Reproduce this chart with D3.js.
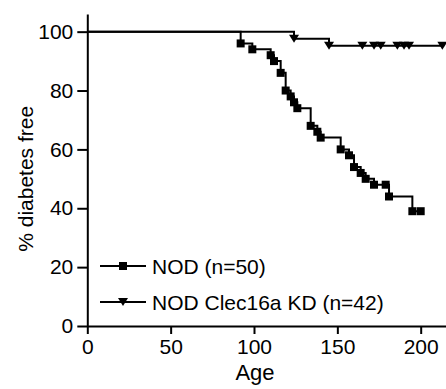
<!DOCTYPE html>
<html>
<head>
<meta charset="utf-8">
<script src="https://cdn.jsdelivr.net/npm/d3@7"></script>
<style>
  body { margin: 0; background: #fff; }
  svg { display: block; font-family: "Liberation Sans", Arial, sans-serif; }
</style>
</head>
<body>
<div id="chart"></div>
<script>
// Data (age in days, % diabetes free)
const nodTime = [0, 92, 99, 110, 112, 116, 119, 122, 124, 126, 134, 138, 140, 152, 157, 160, 164, 167, 172, 179, 181, 195, 200];
const nodSurv = [100, 96, 94, 92, 90, 86, 80, 78, 76, 74, 68, 66, 64, 60, 58, 54, 52, 50, 48, 48, 44, 39, 39];
const kdTime = [0, 124, 145, 165, 172, 176, 186, 190, 193, 213];
const kdSurv = [100, 97.6, 95.2, 95.2, 95.2, 95.2, 95.2, 95.2, 95.2, 95.2];
const xTicks = [0, 50, 100, 150, 200];
const yTicks = [0, 20, 40, 60, 80, 100];
const seriesNames = ["NOD (n=50)", "NOD Clec16a KD (n=42)"];

const W = 446, H = 389;
const FONT = 21;

const svg = d3.select("#chart").append("svg")
    .attr("width", W)
    .attr("height", H);

const x = d3.scaleLinear().domain([0, 215]).range([87.3, 445.7]);
const y = d3.scaleLinear().domain([0, 106]).range([326, 14]);

// Axes
const yAxis = svg.append("g")
    .attr("transform", `translate(${x(0)},0)`)
    .call(d3.axisLeft(y).tickValues(yTicks).tickSize(10).tickPadding(4).tickSizeOuter(0));
const xAxis = svg.append("g")
    .attr("transform", `translate(0,${y(0)})`)
    .call(d3.axisBottom(x).tickValues(xTicks).tickSize(8).tickPadding(5).tickSizeOuter(0));

[xAxis, yAxis].forEach(g => {
    g.selectAll(".domain").attr("stroke", "#000").attr("stroke-width", 2);
    g.selectAll(".tick line").attr("stroke", "#000").attr("stroke-width", 2);
    g.selectAll(".tick text")
        .attr("fill", "#000")
        .style("font-size", FONT + "px")
        .style("font-family", "'Liberation Sans', Arial, sans-serif");
});

// Axis titles
svg.append("text")
    .attr("x", (x(0) + x(200)) / 2 + 1)
    .attr("y", 380)
    .attr("text-anchor", "middle")
    .style("font-size", "22px")
    .text("Age");

svg.append("text")
    .attr("transform", `translate(33,${(y(0) + y(100)) / 2}) rotate(-90)`)
    .attr("text-anchor", "middle")
    .style("font-size", FONT + "px")
    .text("% diabetes free");

// Step curves
const line = d3.line()
    .x(d => x(d[0]))
    .y(d => y(d[1]))
    .curve(d3.curveStepAfter);

const nodPts = nodTime.map((t, i) => [t, nodSurv[i]]);
const kdPts = kdTime.map((t, i) => [t, kdSurv[i]]);

svg.append("path")
    .datum(nodPts)
    .attr("fill", "none")
    .attr("stroke", "#000")
    .attr("stroke-width", 2)
    .attr("d", line);

svg.append("path")
    .datum(kdPts)
    .attr("fill", "none")
    .attr("stroke", "#000")
    .attr("stroke-width", 2)
    .attr("d", line);

const square = d3.symbol().type(d3.symbolSquare).size(64);
const tri = "M-5,-4L5,-4L0,4Z";

svg.append("g").selectAll("path")
    .data(nodPts.slice(1))
    .join("path")
    .attr("transform", d => `translate(${x(d[0])},${y(d[1])})`)
    .attr("d", square)
    .attr("fill", "#000");

svg.append("g").selectAll("path")
    .data(kdPts.slice(1))
    .join("path")
    .attr("transform", d => `translate(${x(d[0])},${y(d[1])})`)
    .attr("d", tri)
    .attr("fill", "#000");

// Legend
const legend = svg.append("g");
const legY = [266, 302];
seriesNames.forEach((name, i) => {
    legend.append("line")
        .attr("x1", 100).attr("x2", 146)
        .attr("y1", legY[i]).attr("y2", legY[i])
        .attr("stroke", "#000").attr("stroke-width", 2);
    legend.append("path")
        .attr("transform", `translate(123,${legY[i]})`)
        .attr("d", i === 0 ? square : tri)
        .attr("fill", "#000");
    legend.append("text")
        .attr("x", 152)
        .attr("y", legY[i] + 7.5)
        .style("font-size", FONT + "px")
        .text(name);
});
</script>
</body>
</html>
